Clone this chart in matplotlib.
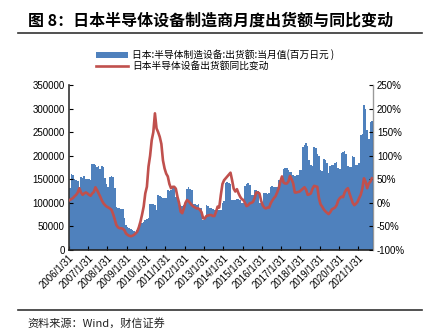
import numpy as np
import matplotlib
matplotlib.use("Agg")
import matplotlib.pyplot as plt
from matplotlib.ticker import FuncFormatter

# monthly shipments, 2006/1 .. 2021/9 (millions of yen)
ship_2006 = [131000, 162000, 160000, 150000, 149000, 147000, 133000, 155000, 152000, 156000, 151000, 150000]
ship_2007 = [150000, 149000, 182000, 183000, 180000, 177000, 178000, 172000, 178000, 177000, 152000, 140000]
ship_2008 = [134000, 155000, 157000, 155000, 131000, 92000, 90000, 88000, 87000, 86000, 68000, 52000]
ship_2009 = [48000, 46000, 45000, 43000, 40000, 38000, 42000, 50000, 55000, 58000, 60000, 63000]
ship_2010 = [65000, 68000, 97000, 98000, 97000, 96000, 85000, 117000, 115000, 113000, 110000, 110000]
ship_2011 = [111000, 127000, 126000, 128000, 131000, 131000, 113000, 112000, 95000, 95000, 94000, 95000]
ship_2012 = [96000, 129000, 133000, 130000, 127000, 97000, 97000, 96000, 97000, 90000, 90000, 64000]
ship_2013 = [66000, 95000, 93000, 88000, 88000, 87000, 85000, 85000, 85000, 84000, 85000, 100000]
ship_2014 = [104000, 143000, 145000, 142000, 140000, 107000, 107000, 106000, 108000, 108000, 107000, 99000]
ship_2015 = [99000, 135000, 140000, 143000, 138000, 117000, 117000, 127000, 128000, 126000, 99000, 100000]
ship_2016 = [99000, 120000, 121000, 119000, 120000, 134000, 135000, 133000, 133000, 133000, 148000, 149000]
ship_2017 = [148000, 171000, 173000, 175000, 170000, 166000, 165000, 159000, 158000, 159000, 160000, 170000]
ship_2018 = [170000, 218000, 222000, 226000, 220000, 191000, 181000, 179000, 218000, 216000, 203000, 200000]
ship_2019 = [170000, 168000, 192000, 191000, 184000, 163000, 179000, 181000, 180000, 185000, 186000, 173000]
ship_2020 = [172000, 206000, 208000, 210000, 204000, 178000, 176000, 177000, 199000, 198000, 181000, 180000]
ship_2021 = [184000, 244000, 246000, 307000, 300000, 254000, 236000, 272000, 274000]

# year-on-year change (%)
yoy = [6, 8, 10, 14, 17, 22, 31, 22, 17, 20, 22, 20,
       17, 15, 20, 23, 33, 27, 20, 13, 5, -1, -5, -8,
       -10, -12, -15, -24, -35, -47, -52, -54, -54, -55, -58, -65,
       -68, -70, -71, -70, -68, -65, -61, -52, -40, -25, -8, 20,
       34, 77, 100, 133, 150, 190, 158, 150, 140, 125, 90, 73,
       62, 56, 40, 31, 34, 34, 30, 13, 0, -19, -22, -12,
       0, 6, 3, -1, -5, -8, -10, -12, -12, -15, -20, -33,
       -33, -28, -27, -26, -26, -28, -28, -19, -8, -10, 17, 40,
       48, 52, 56, 60, 64, 48, 30, 24, 29, 20, 13, 8,
       6, 0, -7, -5, -1, 0, 2, 10, 22, 22, 20, 5,
       -5, -10, -12, -10, -10, -1, 5, 10, 14, 22, 31, 45,
       56, 43, 41, 41, 45, 57, 50, 41, 22, 22, 23, 24,
       27, 30, 33, 28, 17, 18, 20, 30, 36, 35, 34, 10,
       -3, -8, -14, -18, -21, -24, -20, -14, -12, -10, -5, 5,
       10, 13, 12, 22, 28, 31, 20, 10, 0, -5, -2, 2,
       10, 17, 30, 52, 45, 31, 41, 45, 52]

years = list(range(2006, 2022))
xlabels = [f"{y}/1/31" for y in years]

ship = (ship_2006 + ship_2007 + ship_2008 + ship_2009 + ship_2010 + ship_2011
        + ship_2012 + ship_2013 + ship_2014 + ship_2015 + ship_2016 + ship_2017
        + ship_2018 + ship_2019 + ship_2020 + ship_2021)
n = len(ship)
idx = np.arange(n)

cjk = ["Noto Sans CJK SC", "DejaVu Sans"]
plt.rcParams["font.family"] = ["Liberation Sans", "Noto Sans CJK SC"]

fig = plt.figure(figsize=(4.28, 3.35), dpi=100)
ax = fig.add_axes([0.161, 0.254, 0.71, 0.492])
ax2 = ax.twinx()

bars = ax.bar(idx, ship, width=1.0, color="#4F81BD", linewidth=0)
line, = ax2.plot(idx, yoy, color="#C0504D", lw=1.9)

ax.set_xlim(-0.5, n - 0.5)
ax.set_ylim(0, 350000)
ax.set_yticks(range(0, 350001, 50000))
ax2.set_ylim(-100, 250)
ax2.set_yticks(range(-100, 251, 50))
ax2.yaxis.set_major_formatter(FuncFormatter(lambda v, p: f"{int(v)}%"))

ax.set_xticks([12 * k - 0.5 for k in range(len(years))])
ax.set_xticklabels(xlabels, rotation=45, ha="right", rotation_mode="anchor")

for a in (ax, ax2):
    a.spines["top"].set_visible(False)
    a.tick_params(direction="in", labelsize=7, length=3, pad=3)
ax.spines["left"].set_color("#333333")
ax.spines["left"].set_linewidth(1.2)
ax.spines["bottom"].set_color("#222222")
ax.spines["bottom"].set_linewidth(1.2)
ax2.spines["right"].set_color("#999999")
ax2.spines["left"].set_visible(False)
ax2.spines["bottom"].set_visible(False)
ax.tick_params(axis="x", pad=2)

leg = fig.legend([bars, line],
                 ["日本:半导体制造设备:出货额:当月值(百万日元 )", "日本半导体设备出货额同比变动"],
                 loc="upper left", bbox_to_anchor=(0.215, 0.865), frameon=False,
                 prop={"family": cjk, "size": 7}, handlelength=3.3, handletextpad=0.4,
                 labelspacing=0.1, borderaxespad=0)
leg.legend_handles[0].set_height(4)

fig.text(0.065, 0.94, "图 8：日本半导体设备制造商月度出货额与同比变动",
         family=cjk, fontsize=11.5, fontweight="bold", va="center")
fig.add_artist(plt.Line2D([0.042, 0.986], [0.901, 0.901], color="#333333", lw=1.2))
fig.add_artist(plt.Line2D([0.042, 0.986], [0.075, 0.075], color="#333333", lw=1.2))
fig.text(0.065, 0.036, "资料来源：Wind，财信证券", family=cjk, fontsize=8,
         style="italic", va="center", color="#222222")

plt.savefig("out.png", dpi=100)
plt.close()
